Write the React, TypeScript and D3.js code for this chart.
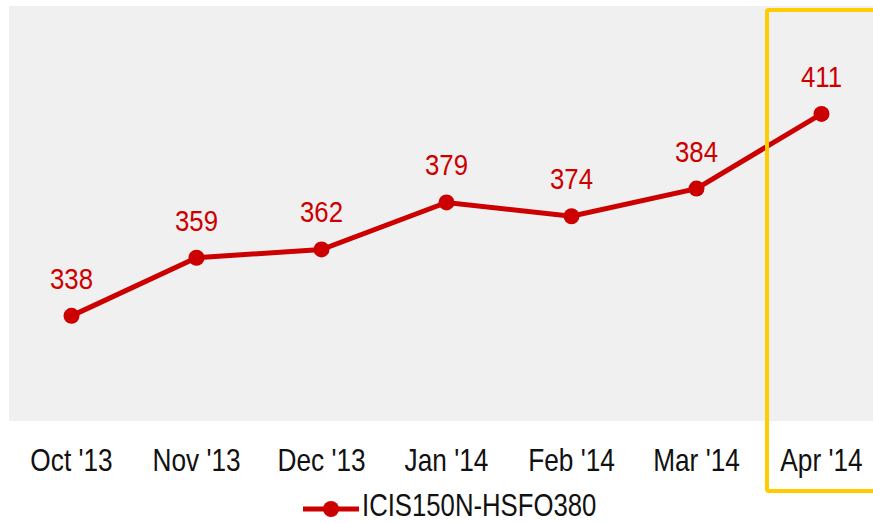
import React, { useEffect, useRef } from "react";
import * as d3 from "d3";

// chart data
const months = ["Oct '13", "Nov '13", "Dec '13", "Jan '14", "Feb '14", "Mar '14", "Apr '14"];
const spreadValues = [338, 359, 362, 379, 374, 384, 411];
const seriesName = "ICIS150N-HSFO380";
const highlightMonth = "Apr '14";

// no narrow font installed, so squeeze the regular one horizontally
const FONT = "'Liberation Sans Narrow', 'Arial Narrow', 'Liberation Sans', sans-serif";

export default function App() {
  const ref = useRef<SVGSVGElement>(null);

  useEffect(() => {
    const W = 873,
      H = 523;
    const margin = { top: 6, left: 9, bottom: 102 };
    const plotH = H - margin.top - margin.bottom;

    const svg = d3.select(ref.current);
    svg.selectAll("*").remove();

    // band scale extends a little past the right edge, like the original
    const x = d3
      .scaleBand()
      .domain(months)
      .range([margin.left, margin.left + 875])
      .paddingInner(0)
      .paddingOuter(0);
    const y = d3
      .scaleLinear()
      .domain([300, 450])
      .range([margin.top + plotH, margin.top]);

    const cx = (m: string) => (x(m) as number) + x.bandwidth() / 2;

    // plot background
    svg
      .append("rect")
      .attr("x", margin.left)
      .attr("y", margin.top)
      .attr("width", W - margin.left)
      .attr("height", plotH)
      .attr("fill", "#f0f0f0");

    const data = months.map((m, i) => ({ m, v: spreadValues[i] }));

    const line = d3
      .line<{ m: string; v: number }>()
      .x(d => cx(d.m))
      .y(d => y(d.v));

    svg
      .append("path")
      .datum(data)
      .attr("d", line)
      .attr("fill", "none")
      .attr("stroke", "#cc0000")
      .attr("stroke-width", 5);

    svg
      .append("g")
      .selectAll("circle")
      .data(data)
      .enter()
      .append("circle")
      .attr("cx", d => cx(d.m))
      .attr("cy", d => y(d.v))
      .attr("r", 8)
      .attr("fill", "#cc0000");

    // value labels
    svg
      .append("g")
      .selectAll("g")
      .data(data)
      .enter()
      .append("g")
      .attr("transform", d => "translate(" + cx(d.m) + "," + (y(d.v) - 27) + ") scale(0.86,1)")
      .append("text")
      .attr("text-anchor", "middle")
      .attr("font-family", FONT)
      .attr("font-size", 30)
      .attr("fill", "#cc0000")
      .text(d => d.v);

    // x axis labels
    const axis = svg
      .append("g")
      .attr("transform", "translate(0," + (margin.top + plotH) + ")")
      .call(d3.axisBottom(x).tickSize(0).tickPadding(27));
    axis.select(".domain").remove();
    axis
      .selectAll("text")
      .attr("font-family", FONT)
      .attr("font-size", 32)
      .attr("fill", "#111")
      .attr("transform", "scale(0.82,1)");

    // highlight box around the last month
    const hx = x(highlightMonth) as number;
    svg
      .append("rect")
      .attr("x", hx + 8)
      .attr("y", 10)
      .attr("width", 200)
      .attr("height", 481)
      .attr("rx", 2)
      .attr("fill", "none")
      .attr("stroke", "#ffcc00")
      .attr("stroke-width", 4);

    // legend
    const lg = svg.append("g").attr("transform", "translate(303,509)");
    lg.append("line")
      .attr("x1", 0)
      .attr("x2", 56)
      .attr("stroke", "#cc0000")
      .attr("stroke-width", 5);
    lg.append("circle").attr("cx", 28).attr("r", 8).attr("fill", "#cc0000");
    lg.append("g")
      .attr("transform", "translate(59,7) scale(0.83,1)")
      .append("text")
      .attr("font-family", FONT)
      .attr("font-size", 31)
      .attr("fill", "#111")
      .text(seriesName);
  }, []);

  return (
    <svg
      ref={ref}
      width={873}
      height={523}
      style={{ position: "absolute", left: 0, top: 0, background: "#fff" }}
    />
  );
}
